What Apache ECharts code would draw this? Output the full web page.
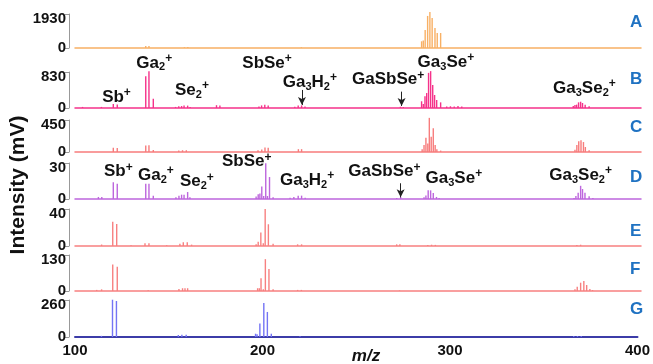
<!DOCTYPE html>
<html>
<head>
<meta charset="utf-8">
<script src="https://cdn.jsdelivr.net/npm/echarts@6/dist/echarts.min.js"></script>
<style>
html, body { margin: 0; padding: 0; background: #fff; }
#main { width: 653px; height: 364px; }
</style>
</head>
<body>
<div id="main"></div>
<script>
// panel letters and y-axis maxima
var panels = ['A', 'B', 'C', 'D', 'E', 'F', 'G'];
var yMax = [1930, 830, 450, 30, 40, 130, 260];
var xTicks = [100, 200, 300, 400];

// peak lists [m/z, intensity]
var peaksA = [[137.5,110],[139.2,120],[158,45],[159.8,50],[220,40],[283.7,380],[284.6,430],[285.6,1020],[286.9,1820],[288.1,2045],[289.3,1700],[290.8,1140],[292,850],[293.8,850]];
var peaksB = [[104,25],[114,25],[120.3,95],[122.4,80],[137.5,730],[139.2,850],[141.5,215],[153.3,25],[155,40],[156.5,45],[157.8,60],[159.7,55],[161,25],[175,65],[176.8,55],[197.5,35],[198.9,60],[200.6,75],[202.4,55],[216.5,30],[218.3,55],[220.1,60],[221.9,35],[272.5,30],[274,25],[283.7,155],[284.6,90],[285.5,270],[286.4,345],[287.4,810],[288.5,850],[289.6,530],[290.6,300],[291.7,185],[293.8,130],[297,35],[299,40],[301,35],[303,45],[305,35],[364.1,46],[365,70],[365.9,77],[366.9,130],[368,145],[369,115],[370.4,77],[372.5,40]];
var peaksC = [[120.3,60],[122.4,55],[137.5,90],[139.2,95],[141.5,28],[155,20],[157,25],[159,25],[197,25],[199,35],[200.7,65],[202.4,60],[218.4,40],[220.1,40],[284,38],[285,100],[286,200],[287,120],[287.8,480],[288.8,215],[289.9,335],[290.9,100],[291.8,40],[293.8,20],[365,30],[366,100],[367,150],[368.2,165],[369.5,140],[370.5,70],[372.5,25]];
var peaksD = [[112.4,1.7],[114.2,1.7],[120.3,13.9],[122.4,12.8],[137.5,12.8],[139.2,12.8],[141.5,2.8],[153.5,1.4],[155.1,2.8],[156.5,3.6],[157.8,3.6],[159.7,5.8],[160.9,1.4],[196,2],[197.1,4],[198,4.5],[199,10.5],[200,2.5],[201.1,29.7],[202,2.5],[203.1,18.3],[205,1.5],[214,1],[216,1.7],[218.3,2.8],[220.1,2.8],[222,1],[270.5,0.8],[272.6,1.7],[285,1.4],[286,3],[287.2,7.2],[288.5,7.2],[289.9,5],[291.6,1.7],[293,0.8],[364.5,0.8],[365.5,2.5],[366.7,5.3],[368,11],[369,8.3],[370.3,5.3],[372.5,2.2],[374.5,0.8]];
var peaksE = [[114.1,1.6],[120,26.3],[122.1,23.8],[129.7,0.8],[137.1,2.9],[139.2,2.9],[148.6,0.8],[155.6,2.5],[157.4,4],[159.5,4],[161.8,1.5],[196,2],[197.1,4.5],[198.5,14.5],[199.8,3],[200.8,40],[202.5,23.5],[205,2.5],[218,1.8],[220.1,1.8],[270.5,1.8],[272.2,1.8],[287,1.2],[289,1.4],[291,1.2],[366,1.2],[368,1.4]];
var peaksF = [[111.5,4],[114.1,6],[120,96],[122.4,88],[138.8,3],[155.1,7],[157,10],[158.3,10],[159.7,10],[196.8,10],[197.7,10],[198.6,46],[199.8,6],[200.9,115],[202.8,79],[205,6],[218,4],[220,4],[272,2],[365,6],[366.2,15.5],[368,30],[369.7,36],[371.2,21.6],[372.9,7.2],[374.3,3.6]];
var peaksG = [[114.1,8],[120,262],[122.1,253],[155.1,14],[157,16],[159.3,16],[196.3,23],[197.1,20],[198.6,94],[200.7,239],[202.6,176],[204.7,23],[220,6],[366,7],[368,7],[370,7]];
var peaks = [peaksA, peaksB, peaksC, peaksD, peaksE, peaksF, peaksG];

// ion labels [formula, m/z, intensity] and arrows [m/z, from, to]
var ionsB = [['Sb+',122,254],['Ga2+',142,1040],['Se2+',162,415],['SbSe+',201.8,1040],['Ga3H2+',224.5,600],['GaSbSe+',266,650],['Ga3Se+',296.6,1060],['Ga3Se2+',370,460]];
var ionsD = [['Sb+',123,22.7],['Ga2+',142.9,20],['Se2+',164.6,14.4],['SbSe+',191,31],['Ga3H2+',223,15.8],['GaSbSe+',264,22.7],['Ga3Se+',300.8,17.2],['Ga3Se2+',368,20]];
var arrowsB = [[201.2,832,92],[220.3,416,70],[273.1,377,46]];
var arrowsD = [[272.6,13.1,1.4]];

var colors = ['#f8b064', '#f5328a', '#f77c7c', '#bd66dd', '#f78080', '#f78080', '#7474f4'];
var gridTop = [14, 72, 120, 163, 209, 255, 300];
var gridHeight = [34, 36, 32, 36, 37, 36, 37];
var letterY = [23, 80, 128, 178, 232, 270, 310];
var font = 'Liberation Sans, Arial, sans-serif';

function richFormula(s) {
    var out = '';
    for (var i = 0; i < s.length; i++) {
        var c = s[i];
        if (c === '+') out += '{sup|+}';
        else if (c >= '0' && c <= '9') out += '{sub|' + c + '}';
        else out += '{m|' + c + '}';
    }
    return out;
}

var rich = {
    m: { fontSize: 17, fontFamily: font, fontWeight: 'bold', color: '#111', lineHeight: 22 },
    sub: { fontSize: 11, fontFamily: font, fontWeight: 'bold', color: '#111', padding: [9, 0, 0, 0] },
    sup: { fontSize: 12, fontFamily: font, fontWeight: 'bold', color: '#111', padding: [0, 0, 9, 0] }
};

var grids = [], xAxes = [], yAxes = [], series = [], graphics = [];
panels.forEach(function (p, i) {
    var last = i === panels.length - 1;
    var max = yMax[i];
    grids.push({ left: 75, right: 12, top: gridTop[i], height: gridHeight[i] });
    xAxes.push({
        gridIndex: i, type: 'value', min: 100, max: 400, interval: 100,
        splitLine: { show: false },
        axisTick: { show: false },
        axisLine: { show: true, lineStyle: { color: last ? '#3c3ca8' : colors[i], width: last ? 2 : 1.5 } },
        axisLabel: { show: last, margin: 6, fontSize: 15, fontWeight: 'bold', color: '#111', fontFamily: font }
    });
    yAxes.push({
        gridIndex: i, type: 'value', min: 0, max: max, interval: max, offset: 6,
        splitLine: { show: false },
        axisLine: { show: true, lineStyle: { color: '#999' } },
        axisTick: { show: true, length: 4, lineStyle: { color: '#999' } },
        axisLabel: {
            margin: 3, fontSize: 15, fontWeight: 'bold', color: '#111', fontFamily: font,
            formatter: function (v) { return v === max ? '{t|' + v + '}' : '' + v; },
            rich: { t: { fontSize: 15, fontWeight: 'bold', color: '#111', fontFamily: font, padding: [10, 0, 0, 0] } }
        }
    });
    var s = {
        type: 'bar', xAxisIndex: i, yAxisIndex: i, barWidth: 1.4, clip: false, silent: true,
        itemStyle: { color: colors[i] },
        data: peaks[i]
    };
    var arrows = p === 'B' ? arrowsB : p === 'D' ? arrowsD : null;
    if (arrows) {
        s.markLine = {
            silent: true, symbol: ['none', 'arrow'], symbolSize: [6, 8],
            label: { show: false },
            lineStyle: { color: '#222', width: 1, type: 'solid' },
            data: arrows.map(function (a) { return [{ coord: [a[0], a[1]] }, { coord: [a[0], a[2]] }]; })
        };
    }
    series.push(s);
    var ions = p === 'B' ? ionsB : p === 'D' ? ionsD : null;
    if (ions) {
        series.push({
            type: 'scatter', xAxisIndex: i, yAxisIndex: i, clip: false, silent: true,
            symbolSize: 1, itemStyle: { color: 'transparent', opacity: 1 },
            label: {
                show: true, position: 'inside',
                formatter: function (d) { return richFormula(d.value[2]); },
                rich: rich
            },
            data: ions.map(function (o) { return [o[1], o[2], o[0]]; })
        });
    }
    graphics.push({
        type: 'text', left: 630, top: letterY[i] - 9,
        style: { text: p, fill: '#1f72c2', font: 'bold 17px ' + font }
    });
});

graphics.push({
    type: 'text', x: 18, y: 185, rotation: Math.PI / 2,
    style: { text: 'Intensity (mV)', fill: '#111', font: 'bold 21px ' + font, align: 'center', verticalAlign: 'middle' }
});
graphics.push({
    type: 'text', x: 366, y: 356,
    style: { text: 'm/z', fill: '#111', font: 'italic bold 17px ' + font, align: 'center', verticalAlign: 'middle' }
});

var chart = echarts.init(document.getElementById('main'));
chart.setOption({
    animation: false,
    grid: grids,
    xAxis: xAxes,
    yAxis: yAxes,
    series: series,
    graphic: graphics
});
</script>
</body>
</html>
